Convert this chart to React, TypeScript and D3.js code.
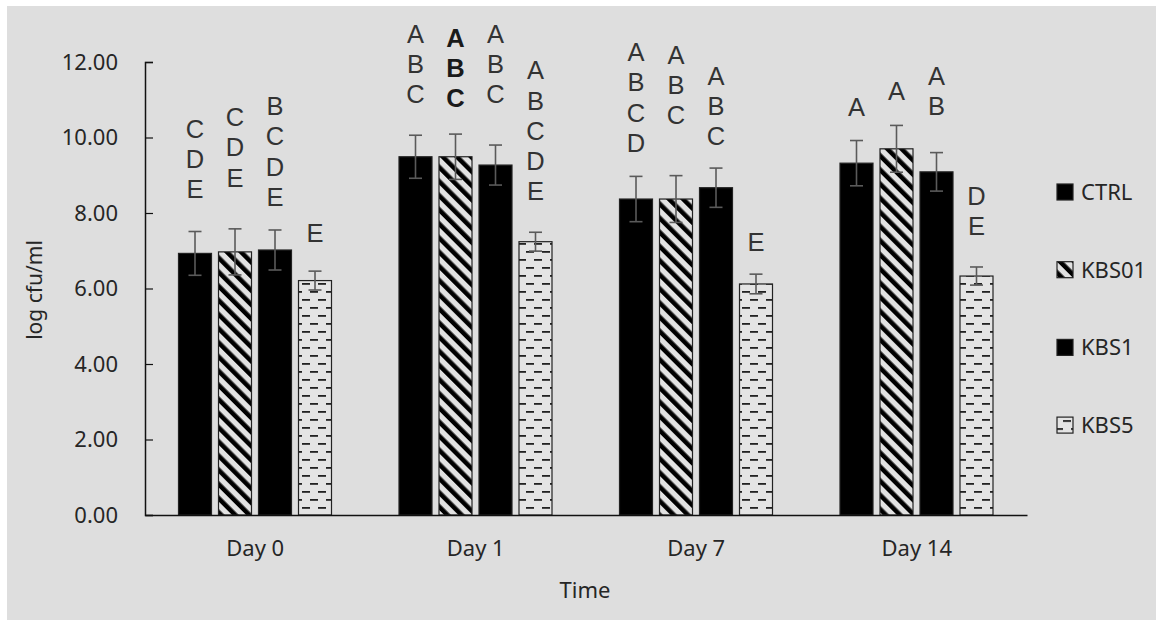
import { useEffect, useRef } from "react";
import * as d3 from "d3";

// x categories and series
const days = ["Day 0", "Day 1", "Day 7", "Day 14"];
const groups = ["CTRL", "KBS01", "KBS1", "KBS5"];
const yTicks = [0, 2, 4, 6, 8, 10, 12];

// mean log cfu/ml per day
const ctrl = [6.93, 9.49, 8.37, 9.32];
const kbs01 = [6.97, 9.49, 8.37, 9.7];
const kbs1 = [7.02, 9.27, 8.67, 9.09];
const kbs5 = [6.21, 7.24, 6.12, 6.33];

// error (+/-)
const ctrlErr = [0.58, 0.57, 0.6, 0.6];
const kbs01Err = [0.61, 0.6, 0.62, 0.62];
const kbs1Err = [0.53, 0.53, 0.52, 0.51];
const kbs5Err = [0.25, 0.25, 0.26, 0.24];

// significance letters and the value where the lowest letter sits
const ctrlLetters = ["CDE", "ABC", "ABCD", "A"];
const kbs01Letters = ["CDE", "ABC", "ABC", "A"];
const kbs1Letters = ["BCDE", "ABC", "ABC", "AB"];
const kbs5Letters = ["E", "ABCDE", "E", "DE"];
const ctrlLetterY = [8.4, 10.91, 9.62, 10.58];
const kbs01LetterY = [8.7, 10.8, 10.36, 10.99];
const kbs1LetterY = [8.19, 10.91, 9.8, 10.6];
const kbs5LetterY = [7.24, 8.34, 7.0, 7.42];
const boldLetters = ["Day 1|KBS01"];

const values = [ctrl, kbs01, kbs1, kbs5];
const errors = [ctrlErr, kbs01Err, kbs1Err, kbs5Err];
const letters = [ctrlLetters, kbs01Letters, kbs1Letters, kbs5Letters];
const letterY = [ctrlLetterY, kbs01LetterY, kbs1LetterY, kbs5LetterY];
const fills = ["#000", "url(#diag)", "#000", "url(#dash)"];

const FONT = "'Noto Sans', sans-serif";
const LETTER_FONT = "'Liberation Sans', Arial, sans-serif";

const App = () => {
  const ref = useRef<SVGSVGElement>(null);

  useEffect(() => {
    const svg = d3.select(ref.current);
    svg.selectAll("*").remove();

    svg.append("rect")
      .attr("x", 7).attr("y", 6)
      .attr("width", 1149).attr("height", 614)
      .attr("fill", "#dedede");

    const defs = svg.append("defs");
    const diag = defs.append("pattern")
      .attr("id", "diag")
      .attr("patternUnits", "userSpaceOnUse")
      .attr("width", 10).attr("height", 10)
      .attr("patternTransform", "rotate(-45)");
    diag.append("rect").attr("width", 10).attr("height", 10).attr("fill", "#e2e2e2");
    diag.append("rect").attr("width", 4.6).attr("height", 10).attr("fill", "#000");

    const dash = defs.append("pattern")
      .attr("id", "dash")
      .attr("patternUnits", "userSpaceOnUse")
      .attr("width", 16).attr("height", 16);
    dash.append("rect").attr("width", 16).attr("height", 16).attr("fill", "#e4e4e4");
    dash.append("rect").attr("x", 6).attr("y", 3).attr("width", 8).attr("height", 1.8).attr("fill", "#222");
    dash.append("rect").attr("x", -2).attr("y", 11).attr("width", 8).attr("height", 1.8).attr("fill", "#222");
    dash.append("rect").attr("x", 14).attr("y", 11).attr("width", 8).attr("height", 1.8).attr("fill", "#222");

    const x0 = d3.scaleBand().domain(days).range([145, 1027]);
    const x1 = d3.scaleBand()
      .domain(groups)
      .range([30, 190])
      .paddingInner(0.175)
      .paddingOuter(0.0875);
    const y = d3.scaleLinear().domain([0, 12]).range([515, 62]);

    // bars
    groups.forEach((g, gi) => {
      const layer = svg.append("g");
      layer.selectAll("rect")
        .data(days)
        .enter()
        .append("rect")
        .attr("x", (d) => x0(d)! + x1(g)!)
        .attr("y", (d, i) => y(values[gi][i]))
        .attr("width", x1.bandwidth())
        .attr("height", (d, i) => y(0) - y(values[gi][i]))
        .attr("fill", fills[gi])
        .attr("stroke", "#222")
        .attr("stroke-width", 1.2);
    });

    // error bars
    groups.forEach((g, gi) => {
      days.forEach((d, i) => {
        const cx = x0(d)! + x1(g)! + x1.bandwidth() / 2;
        const top = y(values[gi][i] + errors[gi][i]);
        const bot = y(values[gi][i] - errors[gi][i]);
        const e = svg.append("g").attr("stroke", "#5a5a5a").attr("stroke-width", 1.6);
        e.append("line").attr("x1", cx).attr("x2", cx).attr("y1", top).attr("y2", bot);
        e.append("line").attr("x1", cx - 6.5).attr("x2", cx + 6.5).attr("y1", top).attr("y2", top);
        e.append("line").attr("x1", cx - 6.5).attr("x2", cx + 6.5).attr("y1", bot).attr("y2", bot);
      });
    });

    // letters
    groups.forEach((g, gi) => {
      days.forEach((d, i) => {
        const cx = x0(d)! + x1(g)! + x1.bandwidth() / 2;
        const str = letters[gi][i].split("");
        const base = y(letterY[gi][i]);
        const bold = boldLetters.includes(`${d}|${g}`);
        str.forEach((ch, k) => {
          svg.append("text")
            .attr("x", cx)
            .attr("y", base - (str.length - 1 - k) * 30.2)
            .attr("text-anchor", "middle")
            .attr("font-family", LETTER_FONT)
            .attr("font-size", 25.5)
            .attr("font-weight", bold ? "bold" : "normal")
            .attr("fill", bold ? "#1a1a1a" : "#333")
            .text(ch);
        });
      });
    });

    // y axis
    const yAxis = svg.append("g")
      .attr("transform", "translate(145,0)")
      .call(d3.axisLeft(y)
        .tickValues(yTicks)
        .tickSizeInner(-8)
        .tickSizeOuter(-8)
        .tickPadding(27)
        .tickFormat(d3.format(".2f")));
    yAxis.select(".domain").attr("stroke", "#111").attr("stroke-width", 1.5);
    yAxis.selectAll(".tick line").attr("stroke", "#111").attr("stroke-width", 1.2);
    yAxis.selectAll(".tick text")
      .attr("font-family", FONT)
      .attr("font-size", 22)
      .attr("fill", "#262626");

    // x axis
    const xAxis = svg.append("g")
      .attr("transform", "translate(0,515)")
      .call(d3.axisBottom(x0).tickSize(0).tickPadding(25));
    xAxis.select(".domain").attr("stroke", "#111").attr("stroke-width", 1.5);
    xAxis.selectAll(".tick text")
      .attr("font-family", FONT)
      .attr("font-size", 22)
      .attr("fill", "#262626");

    // axis titles
    svg.append("text")
      .attr("x", 585).attr("y", 598)
      .attr("text-anchor", "middle")
      .attr("font-family", FONT)
      .attr("font-size", 22)
      .attr("fill", "#262626")
      .text("Time");
    svg.append("text")
      .attr("transform", "translate(42,290) rotate(-90)")
      .attr("text-anchor", "middle")
      .attr("font-family", FONT)
      .attr("font-size", 21)
      .attr("fill", "#262626")
      .text("log cfu/ml");

    // legend
    const legend = svg.append("g").attr("transform", "translate(1057,184)");
    groups.forEach((g, gi) => {
      const row = legend.append("g").attr("transform", `translate(0,${gi * 77.7})`);
      row.append("rect")
        .attr("width", 16).attr("height", 16)
        .attr("fill", fills[gi])
        .attr("stroke", "#222")
        .attr("stroke-width", 1.2);
      row.append("text")
        .attr("x", 24).attr("y", 16)
        .attr("font-family", FONT)
        .attr("font-size", 22)
        .attr("fill", "#262626")
        .text(g);
    });
  });

  return (
    <svg
      ref={ref}
      width={1156}
      height={620}
      style={{ position: "absolute", left: 0, top: 0, background: "#fff" }}
    />
  );
};

export default App;
